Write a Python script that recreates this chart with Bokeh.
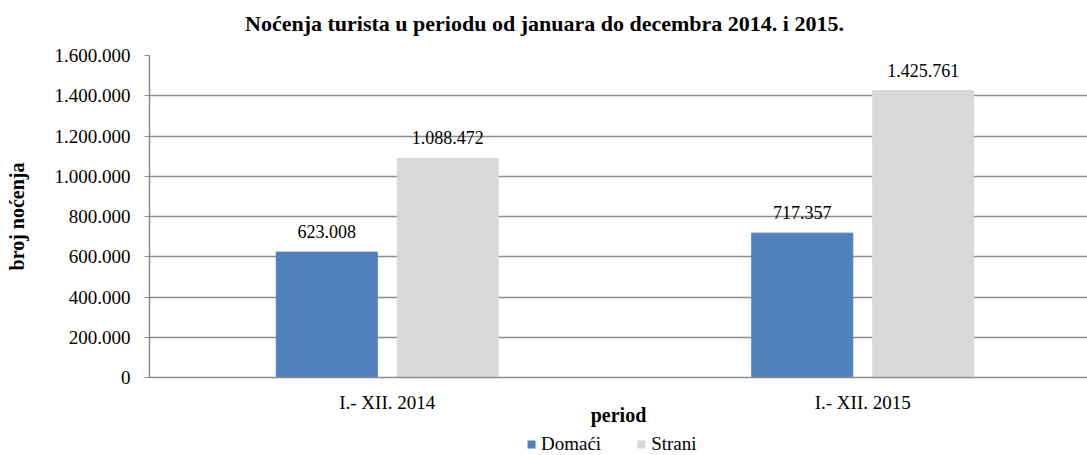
from bokeh.plotting import figure
from bokeh.layouts import column
from bokeh.models import (ColumnDataSource, Range1d, FixedTicker, LabelSet, Legend,
                          LegendItem, Label)
from bokeh.transform import dodge
from bokeh.core.properties import value
from bokeh.embed import file_html
from bokeh.resources import INLINE

# ---- data ----
title_text = "Noćenja turista u periodu od januara do decembra 2014. i 2015."
categories = ["I.- XII. 2014", "I.- XII. 2015"]
series_names = ["Domaći", "Strani"]
domaci = [623008, 717357]
strani = [1088472, 1425761]
domaci_labels = ["623.008", "717.357"]
strani_labels = ["1.088.472", "1.425.761"]
y_ticks = [0, 200000, 400000, 600000, 800000, 1000000, 1200000, 1400000, 1600000]
y_tick_labels = ["0", "200.000", "400.000", "600.000", "800.000", "1.000.000",
                 "1.200.000", "1.400.000", "1.600.000"]

FONT = "Liberation Serif"
BLUE = "#4F81BD"
GRAY = "#D9D9D9"
GRID = "#8C8C8C"
W = 1087
LEFT = 149  # frame left edge (column aligns the frames of all strips)

# ---- title strip ----
pt = figure(width=W, height=40, output_backend="svg", toolbar_location=None,
            x_axis_location=None, y_axis_location=None,
            min_border_left=0, min_border_right=0, min_border_top=0, min_border_bottom=0,
            x_range=Range1d(0, 1), y_range=Range1d(0, 1))
pt.outline_line_color = None
pt.grid.visible = False
pt.add_layout(Label(x=544 - LEFT, y=17, x_units="screen", y_units="screen", text=title_text,
                    text_font=FONT, text_font_size="22px", text_font_style="bold",
                    text_align="center", text_baseline="alphabetic", text_color="#000000"))

# ---- main chart ----
cat_x = [i + 0.5 for i in range(len(categories))]
src = ColumnDataSource(dict(x=cat_x, domaci=domaci, strani=strani,
                            dl=domaci_labels, sl=strani_labels))

p = figure(width=W, height=388, output_backend="svg", toolbar_location=None,
           x_range=Range1d(0, 1.9727), y_range=Range1d(0, 1600000),
           min_border_left=LEFT, min_border_right=0, min_border_top=15,
           min_border_bottom=48)
p.outline_line_color = None
p.background_fill_color = "white"
p.border_fill_color = "white"

BW = 0.2124
OFF = 0.1272
p.vbar(x=dodge("x", -OFF, range=p.x_range), top="domaci", width=BW, source=src,
       fill_color=BLUE, line_color=BLUE)
p.vbar(x=dodge("x", OFF, range=p.x_range), top="strani", width=BW, source=src,
       fill_color=GRAY, line_color=GRAY)

lab_kw = dict(text_font=value(FONT), text_font_size="18px", text_align="center",
              text_baseline="alphabetic", y_offset=14, text_color="#000000")
p.add_layout(LabelSet(x=dodge("x", -OFF, range=p.x_range), y="domaci", text="dl",
                      source=src, **lab_kw))
p.add_layout(LabelSet(x=dodge("x", OFF, range=p.x_range), y="strani", text="sl",
                      source=src, **lab_kw))

p.xgrid.grid_line_color = None
p.ygrid.grid_line_color = GRID
p.ygrid.grid_line_width = 1.5

p.yaxis.ticker = FixedTicker(ticks=y_ticks)
p.yaxis.major_label_overrides = {t: s for t, s in zip(y_ticks, y_tick_labels)}
p.yaxis.minor_tick_line_color = None
p.yaxis.major_tick_out = 5
p.yaxis.major_tick_in = 0
p.yaxis.major_tick_line_color = GRID
p.yaxis.axis_line_color = GRID
p.yaxis.axis_line_width = 1.5
p.yaxis.major_label_standoff = 14
p.yaxis.major_label_text_font = FONT
p.yaxis.major_label_text_font_size = "19px"
p.yaxis.major_label_text_color = "#000000"
p.yaxis.axis_label = "broj noćenja"
p.yaxis.axis_label_text_font = FONT
p.yaxis.axis_label_text_font_size = "20px"
p.yaxis.axis_label_text_font_style = "bold"
p.yaxis.axis_label_text_color = "#000000"
p.yaxis.axis_label_standoff = 24

p.xaxis.ticker = FixedTicker(ticks=cat_x)
p.xaxis.major_label_overrides = {x: c for x, c in zip(cat_x, categories)}
p.xaxis.minor_tick_line_color = None
p.xaxis.major_tick_out = 0
p.xaxis.major_tick_in = 0
p.xaxis.axis_line_color = GRID
p.xaxis.axis_line_width = 1.5
p.xaxis.major_label_standoff = 14
p.xaxis.major_label_text_font = FONT
p.xaxis.major_label_text_font_size = "19px"
p.xaxis.major_label_text_color = "#000000"
p.xaxis.axis_label = "period"
p.xaxis.axis_label_text_font = FONT
p.xaxis.axis_label_text_font_size = "20px"
p.xaxis.axis_label_text_font_style = "bold"
p.xaxis.axis_label_text_color = "#000000"
p.xaxis.axis_label_standoff = -12

# ---- legend strip ----
pl = figure(width=W, height=27, output_backend="svg", toolbar_location=None,
            x_axis_location=None, y_axis_location=None,
            min_border_left=0, min_border_right=0, min_border_top=0, min_border_bottom=0,
            x_range=Range1d(1000, 1001), y_range=Range1d(-5e7, -5e7 + 1))
pl.outline_line_color = None
pl.grid.visible = False
# legend-key renderers reuse the chart data but lie far outside this strip's view
g1 = pl.vbar(x="x", top="domaci", width=BW, source=src, fill_color=BLUE, line_color=None)
g2 = pl.vbar(x="x", top="strani", width=BW, source=src, fill_color=GRAY, line_color=None)
legend = Legend(items=[LegendItem(label=series_names[0], renderers=[g1]),
                       LegendItem(label=series_names[1], renderers=[g2])],
                orientation="horizontal", location=(526 - LEFT, 0),
                glyph_width=10, glyph_height=10, label_standoff=5, spacing=35,
                padding=0, margin=0, border_line_color=None,
                background_fill_alpha=0, label_text_font=FONT,
                label_text_font_size="19px", label_text_color="#000000")
pl.add_layout(legend)

layout = column(pt, p, pl, spacing=0)
open("out.html", "w").write(file_html(layout, INLINE))
